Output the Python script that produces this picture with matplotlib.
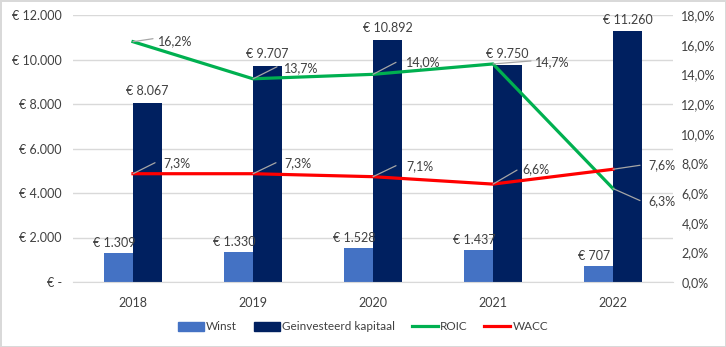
import matplotlib.pyplot as plt
from matplotlib.ticker import FuncFormatter, MultipleLocator
from matplotlib.lines import Line2D
from matplotlib.patches import Patch
import numpy as np

plt.rcParams['font.family'] = ['Lato', 'DejaVu Sans']

jaren = ['2018', '2019', '2020', '2021', '2022']
winst = [1309, 1330, 1528, 1437, 707]
kapitaal = [8067, 9707, 10892, 9750, 11260]
roic = [16.2, 13.7, 14.0, 14.7, 6.3]
wacc = [7.3, 7.3, 7.1, 6.6, 7.6]

blauw = '#4472C4'
navy = '#002060'
groen = '#00B050'
rood = '#FF0000'
tekst = '#404040'
grijs = '#A6A6A6'


def euro(v):
    if v == 0:
        return '€ -'
    return '€ ' + f'{v:,.0f}'.replace(',', '.')


def pct(v):
    return f'{v:.1f}%'.replace('.', ',')


fig = plt.figure(figsize=(7.26, 3.47), dpi=100)
fig.patch.set_edgecolor('#D9D9D9')
fig.patch.set_linewidth(2)
ax = fig.add_axes([73 / 726, 65 / 347, 600 / 726, 267 / 347])
ax2 = ax.twinx()

x = np.arange(len(jaren))
w = 0.24
ax.bar(x - w / 2, winst, w, color=blauw, zorder=2)
ax.bar(x + w / 2, kapitaal, w, color=navy, zorder=2)

for i in range(len(x)):
    ax.annotate(euro(winst[i]), (x[i] - w / 2, winst[i]), xytext=(-3, 3),
                textcoords='offset points', ha='center', va='bottom',
                fontsize=9, color=tekst)
    ax.annotate(euro(kapitaal[i]), (x[i] + w / 2, kapitaal[i]), xytext=(0, 4),
                textcoords='offset points', ha='center', va='bottom',
                fontsize=9, color=tekst)

ax.set_xlim(-0.5, len(x) - 0.5)
ax.set_ylim(0, 12000)
ax.yaxis.set_major_locator(MultipleLocator(2000))
ax.yaxis.set_major_formatter(FuncFormatter(lambda v, p: euro(v)))
ax.set_xticks(x)
ax.set_xticklabels(jaren)
ax.grid(axis='y', color='#D9D9D9', linewidth=1, zorder=0)
ax.set_axisbelow(True)
for s in ax.spines.values():
    s.set_visible(False)
ax.spines['bottom'].set_visible(True)
ax.spines['bottom'].set_color('#D9D9D9')
ax.tick_params(axis='y', length=0, labelsize=9, colors=tekst, pad=8)
ax.tick_params(axis='x', length=0, labelsize=9, colors=tekst, pad=11)

ax2.plot(x, roic, color=groen, linewidth=2.3, zorder=3)
ax2.plot(x, wacc, color=rood, linewidth=2.3, zorder=3)
ax2.set_ylim(0, 18)
ax2.yaxis.set_major_locator(MultipleLocator(2))
ax2.yaxis.set_major_formatter(FuncFormatter(lambda v, p: pct(v)))
for s in ax2.spines.values():
    s.set_visible(False)
ax2.tick_params(length=0, labelsize=9, colors=tekst, pad=6)

# leader line end (dx, dy) and label start (tx, ty), in pixels from the point
roic_off = [(20, 3, 25, 1), (24, 12, 31, 11), (23, 12, 33, 12),
            (38, 3, 42, 2), (27, -12, 35, -13)]
wacc_off = [(22, 11, 30, 11), (23, 11, 31, 11), (23, 11, 33, 11),
            (24, 14, 29, 15), (27, 4, 35, 4)]
px = 0.72
for vals, offs in ((roic, roic_off), (wacc, wacc_off)):
    for i, v in enumerate(vals):
        dx, dy, tx, ty = offs[i]
        ax2.annotate('', (x[i], v), xytext=(dx * px, dy * px),
                     textcoords='offset points',
                     arrowprops=dict(arrowstyle='-', color=grijs, lw=0.9,
                                     shrinkA=0, shrinkB=0), zorder=4)
        ax2.annotate(pct(v), (x[i], v), xytext=(tx * px, ty * px),
                     textcoords='offset points', ha='left', va='center',
                     fontsize=9, color=tekst, zorder=5)

handles = [Patch(color=blauw, label='Winst'),
           Patch(color=navy, label='Geinvesteerd kapitaal'),
           Line2D([], [], color=groen, lw=2.3, label='ROIC'),
           Line2D([], [], color=rood, lw=2.3, label='WACC')]
fig.legend(handles=handles, loc='center', bbox_to_anchor=(0.5, 20 / 347),
           ncol=4, frameon=False, fontsize=8.5, handlelength=2.2,
           handleheight=0.7, handletextpad=0.2, columnspacing=1.4,
           labelcolor=tekst)

fig.savefig('out.png', dpi=100)
